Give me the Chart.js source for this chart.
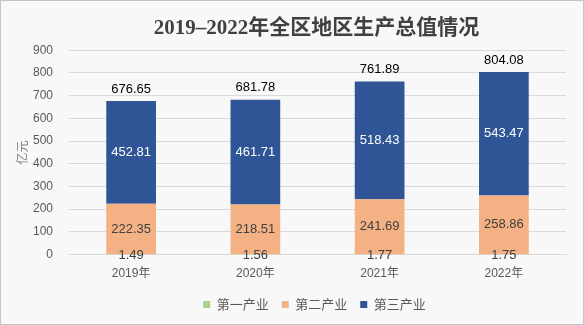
<!DOCTYPE html>
<html>
<head>
<meta charset="utf-8">
<script src="https://cdn.jsdelivr.net/npm/chart.js@4"></script>
<style>
  body { margin: 0; background: #fff; }
  #wrap { position: relative; width: 582px; height: 323px; border: 1px solid #c4c4c4; background: #f8f8f8; }
  canvas { display: block; }
</style>
</head>
<body>
<div id="wrap"><canvas id="gdp-chart" width="582" height="323"></canvas></div>
<script>
// chart data
const years = ['2019年', '2020年', '2021年', '2022年'];
const primary = [1.49, 1.56, 1.77, 1.75];
const secondary = [222.35, 218.51, 241.69, 258.86];
const tertiary = [452.81, 461.71, 518.43, 543.47];
const totals = [676.65, 681.78, 761.89, 804.08];
const seriesNames = ['第一产业', '第二产业', '第三产业'];

const numFont = '"Liberation Sans", "Noto Sans CJK SC", sans-serif';

// draws the value labels on the bars and the totals on top
const barLabels = {
    id: 'barLabels',
    afterLayout(chart) {
        // title and legend are centred over the plot area, not the whole canvas
        chart.legend.left += 26;
        chart.legend.right += 26;
        chart.titleBlock.left += 28;
        chart.titleBlock.right += 28;
    },
    afterDatasetsDraw(chart) {
        const c = chart.ctx;
        c.save();
        c.font = '13px ' + numFont;
        c.textAlign = 'center';
        c.textBaseline = 'middle';
        chart.data.datasets.forEach((ds, i) => {
            const meta = chart.getDatasetMeta(i);
            meta.data.forEach((bar, j) => {
                const v = ds.data[j];
                let y = (bar.y + bar.base) / 2;
                if (i === 0) y = bar.base + 1;
                c.fillStyle = i === 2 ? '#ffffff' : '#404040';
                c.fillText(v.toFixed(2), bar.x, y);
                if (i === 2) {
                    c.fillStyle = '#000000';
                    c.fillText(totals[j].toFixed(2), bar.x, bar.y - 12);
                }
            });
        });
        c.restore();
    }
};

const ctx = document.getElementById('gdp-chart').getContext('2d');

const gdpChart = new Chart(ctx, {
    type: 'bar',
    data: {
        labels: years,
        datasets: [
            { label: seriesNames[0], data: primary, backgroundColor: '#a9d18e' },
            { label: seriesNames[1], data: secondary, backgroundColor: '#f4b183' },
            { label: seriesNames[2], data: tertiary, backgroundColor: '#2f5597' },
        ],
    },
    options: {
        responsive: false,
        animation: false,
        layout: { padding: { left: 10, right: 17, top: 4, bottom: 3 } },
        datasets: { bar: { barPercentage: 0.4, categoryPercentage: 1 } },
        plugins: {
            title: {
                display: true,
                text: '2019–2022年全区地区生产总值情况',
                color: '#404040',
                font: { family: '"Liberation Serif", "Noto Sans CJK SC", serif', size: 21, weight: 'bold' },
                padding: { top: 11, bottom: 9 },
            },
            legend: {
                position: 'bottom',
                labels: {
                    boxWidth: 7,
                    boxHeight: 7,
                    padding: 13,
                    color: '#595959',
                    font: { family: '"Noto Sans CJK SC", sans-serif', size: 13 },
                },
            },
            tooltip: { enabled: false },
        },
        scales: {
            x: {
                stacked: true,
                grid: { display: false },
                border: { color: '#d9d9d9' },
                ticks: { color: '#595959', padding: 4, font: { family: numFont, size: 12 } },
            },
            y: {
                stacked: true,
                min: 0,
                max: 900,
                ticks: { stepSize: 100, color: '#595959', padding: 16, font: { family: numFont, size: 12 } },
                grid: { color: '#d9d9d9', drawTicks: false },
                border: { display: false },
                title: {
                    display: true,
                    text: '亿元',
                    color: '#7f7f7f',
                    font: { family: '"Noto Sans CJK SC", sans-serif', size: 12 },
                },
                afterFit(scale) { scale.width = 58; },
            },
        },
    },
    plugins: [barLabels],
});
</script>
</body>
</html>
